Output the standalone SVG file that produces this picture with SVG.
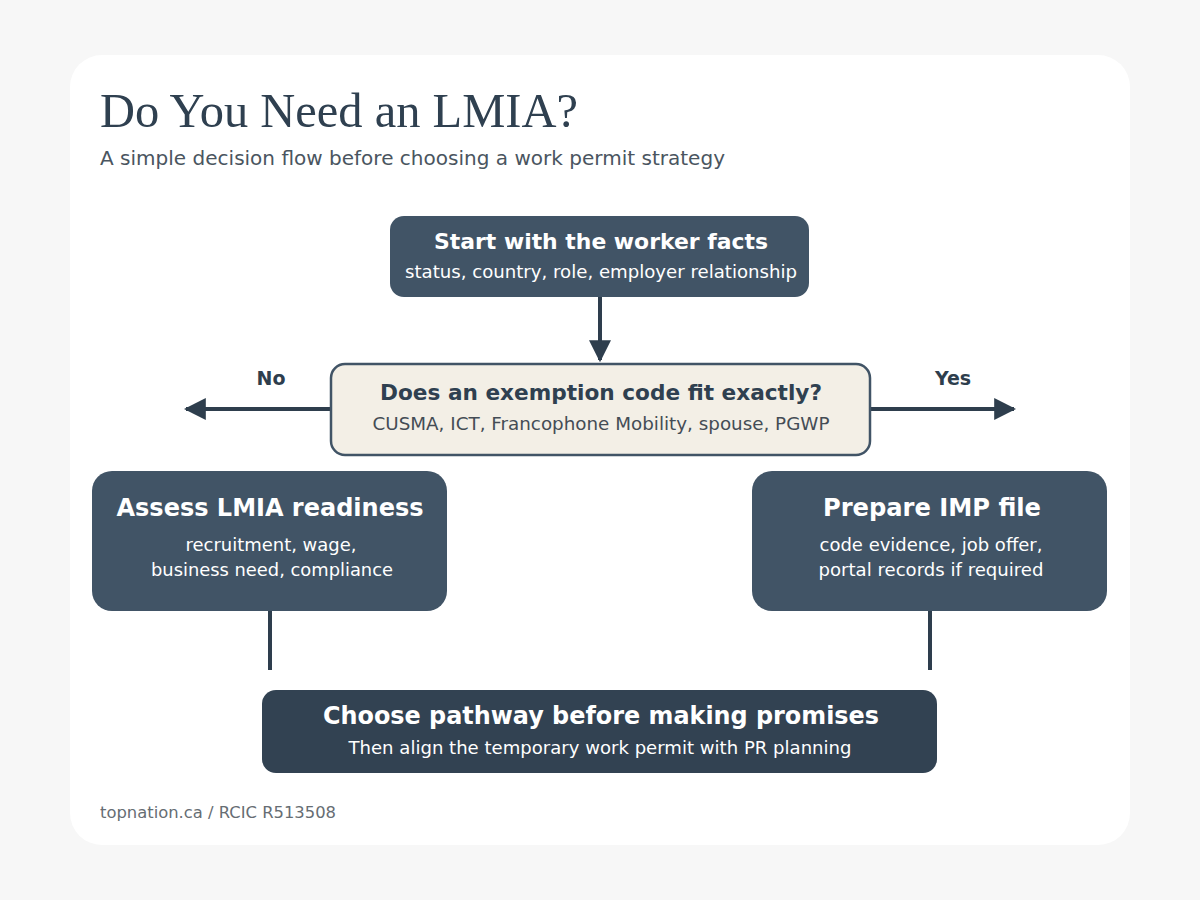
<svg xmlns="http://www.w3.org/2000/svg" width="1200" height="900" viewBox="0 0 1200 900">
<defs>
<style>
.t{font-family:"DejaVu Sans",Verdana,sans-serif;}
.h{font-weight:bold;fill:#ffffff;text-anchor:middle;}
.s{fill:#ffffff;text-anchor:middle;font-size:17px;}
.node{fill:#415466;}
.conn{stroke:#2e3e4d;stroke-width:4;fill:none;}
</style>
<marker id="ah" viewBox="0 0 10 10" refX="9" refY="5" markerWidth="5.5" markerHeight="5.5" markerUnits="strokeWidth" orient="auto">
<path d="M0,0 L10,5 L0,10 Z" fill="#2e3e4d"/>
</marker>
</defs>
<rect x="0" y="0" width="1200" height="900" fill="#f7f7f7"/>
<rect x="70" y="55" width="1060" height="790" rx="32" fill="#ffffff"/>
<text x="100" y="127" font-family="'Liberation Serif',Georgia,serif" font-size="49" fill="#2f4050" textLength="478" lengthAdjust="spacingAndGlyphs">Do You Need an LMIA?</text>
<text class="t" x="100" y="165" font-size="19" fill="#4a5560" textLength="625" lengthAdjust="spacingAndGlyphs">A simple decision flow before choosing a work permit strategy</text>

<g id="connectors">
<line class="conn" x1="600" y1="297" x2="600" y2="360" marker-end="url(#ah)"/>
<line class="conn" x1="330" y1="409" x2="186" y2="409" marker-end="url(#ah)"/>
<line class="conn" x1="870" y1="409" x2="1014" y2="409" marker-end="url(#ah)"/>
<line class="conn" x1="270" y1="611" x2="270" y2="670"/>
<line class="conn" x1="930" y1="611" x2="930" y2="670"/>
<text class="t" x="271" y="385" font-size="19" font-weight="bold" fill="#2e3e4d" text-anchor="middle">No</text>
<text class="t" x="953" y="385" font-size="19" font-weight="bold" fill="#2e3e4d" text-anchor="middle">Yes</text>
</g>

<g id="start">
<rect class="node" x="390" y="216" width="419" height="81" rx="14"/>
<text class="t h" x="601" y="249" font-size="21" textLength="334" lengthAdjust="spacingAndGlyphs">Start with the worker facts</text>
<text class="t s" x="601" y="278" textLength="392" lengthAdjust="spacingAndGlyphs">status, country, role, employer relationship</text>
</g>

<g id="decision">
<rect x="331" y="364" width="539" height="91" rx="14" fill="#f3efe6" stroke="#415466" stroke-width="2.5"/>
<text class="t" x="601" y="400" font-size="21" font-weight="bold" fill="#2f4050" text-anchor="middle" textLength="442" lengthAdjust="spacingAndGlyphs">Does an exemption code fit exactly?</text>
<text class="t" x="601" y="430" font-size="17" fill="#444c55" text-anchor="middle" textLength="457" lengthAdjust="spacingAndGlyphs">CUSMA, ICT, Francophone Mobility, spouse, PGWP</text>
</g>

<g id="lmia">
<rect class="node" x="92" y="471" width="355" height="140" rx="20"/>
<text class="t h" x="270" y="516" font-size="24" textLength="307" lengthAdjust="spacingAndGlyphs">Assess LMIA readiness</text>
<text class="t s" x="271" y="551" textLength="171" lengthAdjust="spacingAndGlyphs">recruitment, wage,</text>
<text class="t s" x="272" y="576" textLength="242" lengthAdjust="spacingAndGlyphs">business need, compliance</text>
</g>

<g id="imp">
<rect class="node" x="752" y="471" width="355" height="140" rx="20"/>
<text class="t h" x="932" y="516" font-size="24" textLength="218" lengthAdjust="spacingAndGlyphs">Prepare IMP file</text>
<text class="t s" x="931" y="551" textLength="223" lengthAdjust="spacingAndGlyphs">code evidence, job offer,</text>
<text class="t s" x="931" y="576" textLength="225" lengthAdjust="spacingAndGlyphs">portal records if required</text>
</g>

<g id="pathway">
<rect x="262" y="690" width="675" height="83" rx="14" fill="#324252"/>
<text class="t h" x="601" y="724" font-size="24" textLength="556" lengthAdjust="spacingAndGlyphs">Choose pathway before making promises</text>
<text class="t s" x="600" y="754" textLength="503" lengthAdjust="spacingAndGlyphs">Then align the temporary work permit with PR planning</text>
</g>

<text class="t" x="100" y="818" font-size="16" fill="#666d73" textLength="236" lengthAdjust="spacingAndGlyphs">topnation.ca / RCIC R513508</text>
</svg>
